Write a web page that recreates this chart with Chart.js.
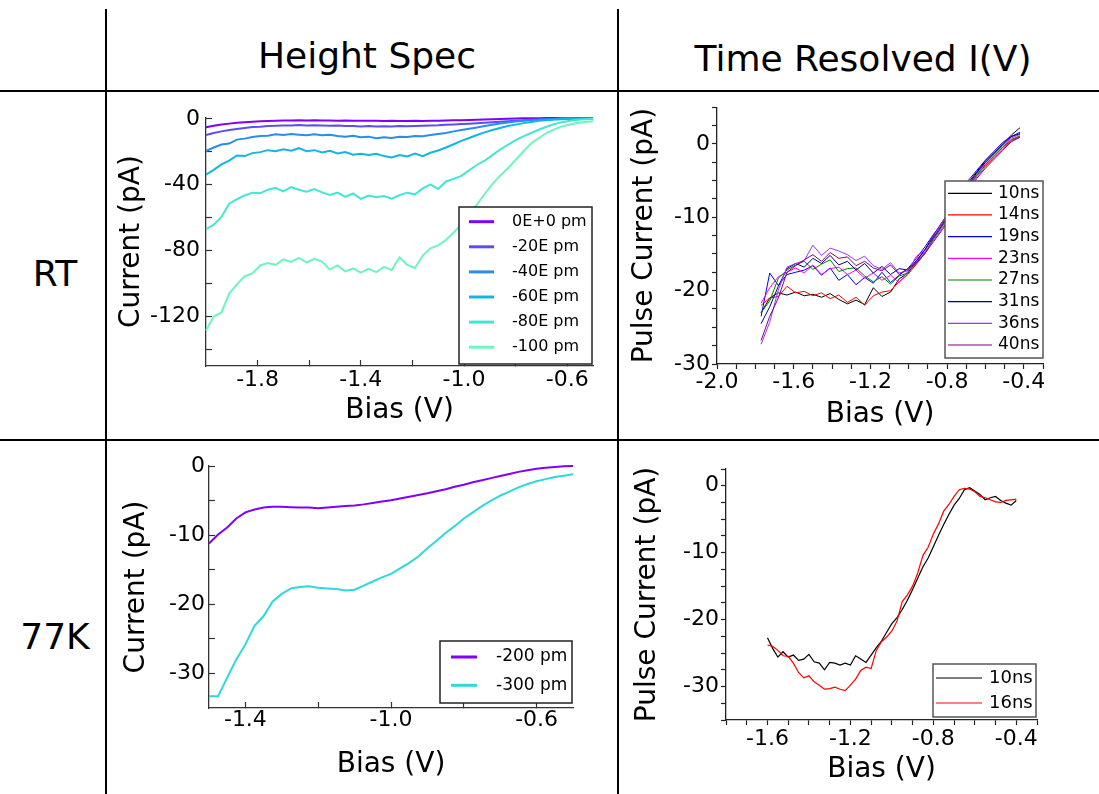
<!DOCTYPE html>
<html>
<head>
<meta charset="utf-8">
<script src="https://cdn.jsdelivr.net/npm/chart.js@4.4.1/dist/chart.umd.min.js"></script>
<style>
  body { margin: 0; background: #fff; }
  #page { position: relative; width: 1099px; height: 794px; overflow: hidden; font-family: 'DejaVu Sans', sans-serif; color: #000; }
  .rule { position: absolute; background: #000; }
  .head { position: absolute; font-size: 36px; line-height: 36px; text-align: center; white-space: nowrap; }
  canvas { position: absolute; }
</style>
</head>
<body>
<div id="page">
  <div class="rule" style="left:105px; top:9px; width:2px; height:785px"></div>
  <div class="rule" style="left:617px; top:9px; width:2px; height:785px"></div>
  <div class="rule" style="left:0; top:90px; width:1099px; height:2px"></div>
  <div class="rule" style="left:0; top:439px; width:1099px; height:2px"></div>

  <div class="head" style="left:112px; top:38px; width:510px">Height Spec</div>
  <div class="head" style="left:623px; top:41px; width:480px">Time Resolved I(V)</div>
  <div class="head" style="left:0; top:256px; width:110px">RT</div>
  <div class="head" style="left:0; top:619px; width:110px">77K</div>

  <canvas id="hsRT" width="510" height="347" style="left:107px; top:92px"></canvas>
  <canvas id="trRT" width="480" height="347" style="left:619px; top:92px"></canvas>
  <canvas id="hs77" width="510" height="353" style="left:107px; top:441px"></canvas>
  <canvas id="tr77" width="480" height="353" style="left:619px; top:441px"></canvas>
</div>
<script>
// ---- height spec, room temperature ----
const hsBiasRT = [-2.00, -1.97, -1.94, -1.91, -1.88, -1.85, -1.82, -1.79, -1.76, -1.73,
  -1.70, -1.67, -1.64, -1.61, -1.58, -1.55, -1.52, -1.49, -1.46, -1.43,
  -1.40, -1.37, -1.34, -1.31, -1.28, -1.25, -1.22, -1.19, -1.16, -1.13,
  -1.10, -1.07, -1.04, -1.01, -0.98, -0.95, -0.92, -0.89, -0.86, -0.83,
  -0.80, -0.77, -0.74, -0.71, -0.68, -0.65, -0.62, -0.59, -0.56, -0.53,
  -0.50];
const hs0 = [-5.1, -4.2, -3.4, -2.9, -2.4, -2.0, -1.7, -1.4, -1.3, -1.1,
  -1.0, -1.0, -0.9, -1.0, -0.9, -1.0, -1.0, -1.1, -1.0, -1.1,
  -1.2, -1.1, -1.2, -1.3, -1.2, -1.3, -1.3, -1.2, -1.3, -1.2,
  -1.1, -1.0, -0.9, -0.8, -0.7, -0.6, -0.4, -0.3, -0.1, 0.0,
  0.2, 0.3, 0.4, 0.4, 0.5, 0.5, 0.4, 0.4, 0.3, 0.3,
  0.3];
const hs20 = [-9.8, -8.6, -7.6, -6.8, -6.2, -5.6, -5.0, -4.8, -4.4, -4.2,
  -4.0, -4.1, -3.8, -4.0, -3.9, -4.1, -4.2, -4.0, -4.3, -4.4,
  -4.6, -4.4, -4.7, -4.5, -4.6, -4.4, -4.5, -4.3, -4.2, -4.0,
  -3.9, -3.6, -3.4, -3.1, -2.9, -2.6, -2.3, -2.0, -1.7, -1.4,
  -1.1, -0.9, -0.6, -0.4, -0.2, -0.1, 0.0, 0.0, 0.0, 0.0,
  0.0];
const hs40 = [-19.5, -17.4, -15.6, -15.0, -12.6, -12.0, -11.0, -10.4, -10.2, -9.4,
  -9.8, -9.2, -9.6, -10.0, -9.4, -10.0, -9.6, -10.4, -10.8, -10.2,
  -11.2, -10.8, -11.8, -11.2, -11.6, -10.8, -11.0, -10.4, -10.6, -9.8,
  -9.2, -8.6, -7.6, -6.8, -6.0, -5.2, -4.4, -3.6, -2.8, -2.2,
  -1.6, -1.2, -0.8, -0.5, -0.3, -0.2, -0.1, 0.0, 0.0, 0.0,
  0.0];
const hs60 = [-33.8, -31.0, -27.6, -25.4, -22.2, -22.6, -20.8, -20.2, -19.0, -19.6,
  -18.4, -19.3, -17.8, -19.6, -19.0, -20.4, -19.4, -21.0, -20.2, -21.8,
  -21.2, -22.0, -21.2, -22.6, -23.4, -22.0, -22.8, -21.0, -22.6, -20.6,
  -19.2, -17.4, -15.4, -13.4, -11.6, -9.8, -8.2, -6.8, -5.6, -4.4,
  -3.5, -2.6, -1.9, -1.2, -0.8, -0.4, -0.2, 0.0, 0.0, 0.1,
  0.0];
const hs80 = [-67.0, -64.2, -59.5, -51.5, -48.8, -46.5, -44.8, -45.2, -43.0, -41.8,
  -44.0, -41.4, -43.0, -44.2, -42.6, -44.6, -46.2, -44.8, -47.4, -45.3,
  -48.6, -46.5, -47.6, -46.8, -48.4, -46.4, -44.8, -45.8, -42.2, -39.8,
  -42.6, -38.0, -36.4, -34.6, -31.2, -28.0, -25.4, -22.0, -18.6, -15.8,
  -12.9, -10.6, -8.6, -6.6, -4.8, -3.2, -2.0, -1.1, -0.6, -0.2,
  0.0];
const hs100 = [-128.5, -120.0, -117.5, -106.0, -100.5, -95.5, -93.8, -89.0, -87.5, -88.6,
  -85.3, -86.8, -84.4, -87.2, -85.0, -86.6, -91.5, -89.0, -92.6, -90.8,
  -93.4, -91.0, -93.0, -89.8, -91.8, -84.0, -88.6, -90.5, -83.0, -78.6,
  -76.8, -73.5, -69.0, -64.0, -57.5, -52.0, -45.6, -39.6, -34.5, -30.0,
  -25.0, -19.8, -15.0, -11.6, -8.6, -6.4, -4.6, -3.4, -2.5, -1.9,
  -1.4];
const hsLabelsRT = ['0E+0 pm', '-20E pm', '-40E pm', '-60E pm', '-80E pm', '-100 pm'];
const hsColorsRT = ['#8000ff', '#5a4ef9', '#2b8cf0', '#12b6e4', '#42e6d4', '#6ef5bc'];
const hsRTxTicks = [-1.8, -1.6, -1.4, -1.2, -1.0, -0.8, -0.6];
const hsRTxLabels = [-1.8, -1.4, -1.0, -0.6];
const hsRTyTicks = [0, -20, -40, -60, -80, -100, -120, -140];
const hsRTyLabels = [0, -40, -80, -120];

// ---- time resolved, room temperature ----
const trBiasRT = [-1.77, -1.725, -1.68, -1.635, -1.59, -1.545, -1.5, -1.455, -1.41, -1.365,
  -1.32, -1.275, -1.23, -1.185, -1.14, -1.095, -1.05, -1.005, -0.96, -0.915,
  -0.87, -0.825, -0.78, -0.735, -0.69, -0.645, -0.6, -0.555, -0.51, -0.465,
  -0.42];
const tr10 = [-23.0, -21.0, -20.3, -20.6, -20.2, -20.7, -20.5, -20.9, -20.4, -21.2,
  -21.8, -21.3, -21.9, -19.6, -20.8, -20.2, -18.4, -17.6, -16.0, -14.4,
  -12.4, -10.6, -9.0, -7.2, -5.3, -3.8, -2.3, -1.2, 0.0, 1.2,
  2.2];
const tr14 = [-22.0, -21.0, -20.8, -19.4, -20.3, -20.1, -20.7, -20.3, -21.1, -20.6,
  -21.6, -20.9, -22.0, -20.7, -20.2, -20.0, -18.8, -17.8, -16.4, -14.9,
  -12.9, -11.2, -9.5, -7.8, -5.9, -4.3, -2.9, -1.7, -0.5, 0.5,
  1.0];
const tr19 = [-23.5, -17.6, -19.3, -17.8, -17.5, -17.2, -16.6, -17.9, -16.9, -18.6,
  -17.8, -19.2, -18.2, -19.0, -17.5, -18.9, -17.9, -17.0, -15.6, -14.0,
  -12.3, -10.8, -9.0, -7.1, -5.0, -3.6, -2.2, -1.0, 0.2, 1.0,
  1.6];
const tr23 = [-21.7, -19.6, -18.1, -17.5, -16.9, -17.6, -16.5, -17.8, -17.0, -16.8,
  -17.8, -17.2, -18.3, -17.6, -18.6, -17.9, -18.9, -17.4, -15.3, -14.5,
  -12.5, -10.7, -9.2, -7.5, -5.7, -4.0, -2.6, -1.4, -0.2, 0.8,
  1.3];
const tr27 = [-23.0, -21.4, -18.3, -17.2, -16.5, -16.0, -17.1, -16.4, -15.8, -17.4,
  -17.0, -16.9, -18.0, -18.8, -18.1, -19.1, -18.0, -17.6, -16.3, -14.9,
  -12.9, -11.2, -9.4, -7.7, -5.9, -4.2, -2.8, -1.6, -0.4, 0.6,
  1.1];
const tr31 = [-24.5, -22.2, -19.4, -17.0, -16.3, -16.8, -15.6, -16.3, -15.2, -16.5,
  -16.0, -17.2, -16.3, -17.6, -16.7, -17.8, -17.0, -17.2, -15.9, -14.4,
  -12.7, -11.0, -9.3, -7.4, -5.6, -3.9, -2.5, -1.3, -0.1, 1.0,
  1.4];
const tr36 = [-27.3, -24.3, -19.9, -16.8, -16.3, -15.9, -13.8, -15.2, -14.2, -14.6,
  -15.1, -15.9, -15.3, -16.6, -17.1, -16.2, -17.6, -17.3, -16.1, -14.7,
  -13.1, -11.5, -9.8, -8.1, -6.2, -4.5, -3.1, -1.9, -0.7, 0.4,
  1.0];
const tr40 = [-26.8, -23.5, -21.0, -17.5, -16.6, -15.8, -15.1, -16.0, -14.8, -15.6,
  -15.4, -16.6, -16.0, -16.9, -17.3, -16.5, -17.8, -17.0, -16.2, -14.9,
  -13.3, -11.7, -10.0, -8.3, -6.5, -4.7, -3.3, -2.1, -0.9, 0.3,
  0.9];
const trLabelsRT = ['10ns', '14ns', '19ns', '23ns', '27ns', '31ns', '36ns', '40ns'];
const trColorsRT = ['#000000', '#ff0000', '#0000ff', '#ff00ff', '#008000', '#000080', '#9933ff', '#800080'];
const trRTxTicks = [-2.0, -1.9, -1.8, -1.7, -1.6, -1.5, -1.4, -1.3, -1.2, -1.1, -1.0, -0.9, -0.8, -0.7, -0.6, -0.5, -0.4, -0.3];
const trRTxLabels = [-2.0, -1.6, -1.2, -0.8, -0.4];
const trRTyTicks = [5, 2.5, 0, -2.5, -5, -7.5, -10, -12.5, -15, -17.5, -20, -22.5, -25, -27.5, -30];
const trRTyLabels = [0, -10, -20, -30];

// ---- height spec, 77 K ----
const hsBias77 = [-1.500, -1.475, -1.450, -1.425, -1.400, -1.375, -1.350, -1.325, -1.300, -1.275,
  -1.250, -1.225, -1.200, -1.175, -1.150, -1.125, -1.100, -1.075, -1.050, -1.025,
  -1.000, -0.975, -0.950, -0.925, -0.900, -0.875, -0.850, -0.825, -0.800, -0.775,
  -0.750, -0.725, -0.700, -0.675, -0.650, -0.625, -0.600, -0.575, -0.550, -0.525,
  -0.500];
const hs200 = [-11.2, -9.9, -8.9, -7.6, -6.7, -6.3, -6.0, -5.9, -5.9, -5.95,
  -6.0, -6.0, -6.1, -6.0, -5.9, -5.8, -5.7, -5.55, -5.35, -5.15,
  -4.95, -4.7, -4.45, -4.2, -3.95, -3.65, -3.35, -3.0, -2.7, -2.35,
  -2.05, -1.75, -1.45, -1.15, -0.85, -0.6, -0.4, -0.25, -0.15, -0.05,
  0.0];
const hs300 = [-33.3, -33.3, -30.6, -28.0, -25.8, -23.1, -21.7, -19.6, -18.5, -17.7,
  -17.5, -17.4, -17.6, -17.7, -17.8, -18.0, -17.9, -17.3, -16.7, -16.1,
  -15.6, -14.8, -14.0, -13.1, -11.9, -10.8, -9.7, -8.7, -7.6, -6.7,
  -5.8, -5.0, -4.3, -3.7, -3.1, -2.6, -2.2, -1.9, -1.6, -1.4,
  -1.2];
const hsLabels77 = ['-200 pm', '-300 pm'];
const hsColors77 = ['#8000ff', '#2ed8dc'];
const hs77xTicks = [-1.4, -1.2, -1.0, -0.8, -0.6];
const hs77xLabels = [-1.4, -1.0, -0.6];
const hs77yTicks = [0, -5, -10, -15, -20, -25, -30];
const hs77yLabels = [0, -10, -20, -30];

// ---- time resolved, 77 K ----
const trBias77 = [-1.600, -1.575, -1.550, -1.525, -1.500, -1.475, -1.450, -1.425, -1.400, -1.375,
  -1.350, -1.325, -1.300, -1.275, -1.250, -1.225, -1.200, -1.175, -1.150, -1.125,
  -1.100, -1.075, -1.050, -1.025, -1.000, -0.975, -0.950, -0.925, -0.900, -0.875,
  -0.850, -0.825, -0.800, -0.775, -0.750, -0.725, -0.700, -0.675, -0.650, -0.625,
  -0.600, -0.575, -0.550, -0.525, -0.500, -0.475, -0.450, -0.425, -0.400];
const tr77_10 = [-22.7, -24.3, -25.6, -24.8, -25.6, -25.3, -26.1, -25.9, -25.2, -26.3,
  -26.5, -27.5, -26.4, -26.5, -26.8, -26.5, -26.8, -25.4, -25.9, -26.4,
  -25.3, -24.2, -23.2, -21.9, -20.6, -19.7, -18.5, -17.1, -15.5, -13.8,
  -12.1, -10.8, -9.1, -7.4, -5.8, -4.3, -2.9, -1.9, -0.6, -0.3,
  -0.8, -1.3, -2.1, -1.8, -1.6, -2.2, -2.6, -2.9, -2.2];
const tr77_16 = [-23.8, -24.0, -24.6, -25.4, -25.5, -26.5, -27.9, -28.7, -28.4, -29.3,
  -29.8, -30.4, -30.3, -30.1, -30.4, -30.6, -29.8, -28.9, -27.6, -27.1,
  -27.3, -24.6, -23.3, -22.6, -21.7, -20.2, -17.3, -16.3, -15.0, -13.0,
  -10.4, -9.2, -7.2, -5.7, -3.8, -2.8, -1.6, -0.6, -0.4, -0.5,
  -0.9, -1.6, -1.8, -2.1, -2.4, -2.5, -2.2, -2.1, -2.0];
const trLabels77 = ['10ns', '16ns'];
const trColors77 = ['#000000', '#ff0000'];
const tr77xTicks = [-1.8, -1.7, -1.6, -1.5, -1.4, -1.3, -1.2, -1.1, -1.0, -0.9, -0.8, -0.7, -0.6, -0.5, -0.4, -0.3];
const tr77xLabels = [-1.6, -1.2, -0.8, -0.4];
const tr77yTicks = [2.5, 0, -2.5, -5, -7.5, -10, -12.5, -15, -17.5, -20, -22.5, -25, -27.5, -30, -32.5, -35];
const tr77yLabels = [0, -10, -20, -30];

Chart.defaults.font.family = "'DejaVu Sans', sans-serif";
Chart.defaults.color = '#000';

const has = (list, v) => list.some(l => Math.abs(l - v) < 1e-6);

function lines(bias, series, labels, colors, width) {
  return series.map((vals, i) => ({
    label: labels[i],
    data: bias.map((x, j) => ({ x: x, y: vals[j] })),
    borderColor: colors[i],
    borderWidth: width,
    pointRadius: 0,
    fill: false,
    tension: 0,
    clip: 5,
    order: series.length - i
  }));
}

// legend box drawn inside the plot, over the data
const boxLegend = {
  id: 'boxLegend',
  afterDraw(chart, args, o) {
    const { ctx, chartArea: a } = chart;
    const x = a.right - o.right - o.w, y = a.bottom - o.bottom - o.h;
    ctx.save();
    ctx.fillStyle = '#fff';
    ctx.fillRect(x, y, o.w, o.h);
    ctx.strokeStyle = o.border;
    ctx.lineWidth = 1.5;
    ctx.strokeRect(x, y, o.w, o.h);
    ctx.font = o.font;
    ctx.textBaseline = 'middle';
    chart.data.datasets.forEach((d, i) => {
      const cy = y + o.first + i * o.rowH;
      ctx.strokeStyle = d.borderColor;
      ctx.lineWidth = o.lineW;
      ctx.beginPath();
      ctx.moveTo(x + o.x0, cy);
      ctx.lineTo(x + o.x1, cy);
      ctx.stroke();
      ctx.fillStyle = '#000';
      ctx.fillText(d.label, x + o.textX, cy);
    });
    ctx.restore();
  }
};

function axes(o) {
  return {
    x: {
      type: 'linear', min: o.xMin, max: o.xMax,
      afterBuildTicks: s => { s.ticks = o.xTicks.map(v => ({ value: v })); },
      afterFit: s => { s.height = o.xH; },
      ticks: { autoSkip: false, maxRotation: 0, padding: o.xPad, font: { size: 22 },
        callback: v => has(o.xLabels, v) ? v.toFixed(1) : '' },
      grid: { drawOnChartArea: false, tickLength: o.tick, tickColor: o.axis, tickWidth: 1.2 },
      border: { color: o.axis, width: 1.3 },
      title: { display: true, text: 'Bias (V)', font: { size: 28 }, padding: { top: 0, bottom: o.xTitlePad } }
    },
    y: {
      type: 'linear', min: o.yMin, max: o.yMax,
      afterBuildTicks: s => { s.ticks = o.yTicks.map(v => ({ value: v })); },
      afterFit: s => { s.width = o.yW; },
      ticks: { autoSkip: false, padding: o.yPad, font: { size: 22 },
        callback: v => has(o.yLabels, v) ? String(v) : '' },
      grid: { drawOnChartArea: false, tickLength: o.tick, tickColor: o.axis, tickWidth: 1.2 },
      border: { color: o.axis, width: 1.3 },
      title: { display: true, text: o.yTitle, font: { size: 28 }, padding: { top: o.yTitlePad, bottom: 0 } }
    }
  };
}

function draw(id, datasets, padding, scales, legend) {
  new Chart(document.getElementById(id), {
    type: 'line',
    data: { datasets: datasets },
    options: {
      responsive: false,
      animation: false,
      layout: { padding: padding },
      plugins: { legend: { display: false }, tooltip: { enabled: false }, boxLegend: legend },
      scales: scales
    },
    plugins: [boxLegend]
  });
}

draw('hsRT',
  lines(hsBiasRT, [hs0, hs20, hs40, hs60, hs80, hs100], hsLabelsRT, hsColorsRT, 2),
  { left: 0, top: 16, right: 24, bottom: 0 },
  axes({ xMin: -2.0, xMax: -0.5, xTicks: hsRTxTicks, xLabels: hsRTxLabels, xH: 73, xPad: 7, xTitlePad: 11,
    yMin: -150, yMax: 1, yTicks: hsRTyTicks, yLabels: hsRTyLabels, yW: 99, yPad: 12, yTitlePad: 8,
    yTitle: 'Current (pA)', tick: -6, axis: '#333' }),
  { right: 1, bottom: 2, w: 133, h: 157, first: 14.7, rowH: 25.1, x0: 10, x1: 35, textX: 53,
    font: "16px 'DejaVu Sans'", lineW: 3, border: '#222' });

draw('trRT',
  lines(trBiasRT, [tr10, tr14, tr19, tr23, tr27, tr31, tr36, tr40], trLabelsRT, trColorsRT, 1),
  { left: 0, top: 9, right: 56, bottom: 0 },
  axes({ xMin: -2.0, xMax: -0.3, xTicks: trRTxTicks, xLabels: trRTxLabels, xH: 75, xPad: 0, xTitlePad: 7,
    yMin: -30, yMax: 5, yTicks: trRTyTicks, yLabels: trRTyLabels, yW: 98, yPad: 2, yTitlePad: 9,
    yTitle: 'Pulse Current (pA)', tick: 5, axis: '#222' }),
  { right: 0, bottom: 6, w: 98, h: 177, first: 12.3, rowH: 21.67, x0: 3, x1: 47, textX: 53,
    font: "17px 'DejaVu Sans'", lineW: 1.2, border: '#555' });

draw('hs77',
  lines(hsBias77, [hs200, hs300], hsLabels77, hsColors77, 2),
  { left: 0, top: 25, right: 44, bottom: 0 },
  axes({ xMin: -1.5, xMax: -0.5, xTicks: hs77xTicks, xLabels: hs77xLabels, xH: 86, xPad: 5, xTitlePad: 12,
    yMin: -35, yMax: 0, yTicks: hs77yTicks, yLabels: hs77yLabels, yW: 102, yPad: 10, yTitlePad: 13,
    yTitle: 'Current (pA)', tick: -6, axis: '#333' }),
  { right: 1, bottom: 5, w: 132, h: 62, first: 16, rowH: 28.3, x0: 11, x1: 37, textX: 56,
    font: "17px 'DejaVu Sans'", lineW: 3, border: '#222' });

draw('tr77',
  lines(trBias77, [tr77_10, tr77_16], trLabels77, trColors77, 1.2),
  { left: 0, top: 28, right: 62, bottom: 0 },
  axes({ xMin: -1.8, xMax: -0.3, xTicks: tr77xTicks, xLabels: tr77xLabels, xH: 74, xPad: 1, xTitlePad: 7,
    yMin: -35, yMax: 2.5, yTicks: tr77yTicks, yLabels: tr77yLabels, yW: 107, yPad: 2, yTitlePad: 12,
    yTitle: 'Pulse Current (pA)', tick: 5, axis: '#222' }),
  { right: 1, bottom: 3, w: 103, h: 53, first: 14, rowH: 25, x0: 3, x1: 49, textX: 56,
    font: "18px 'DejaVu Sans'", lineW: 1.2, border: '#555' });
</script>
</body>
</html>
